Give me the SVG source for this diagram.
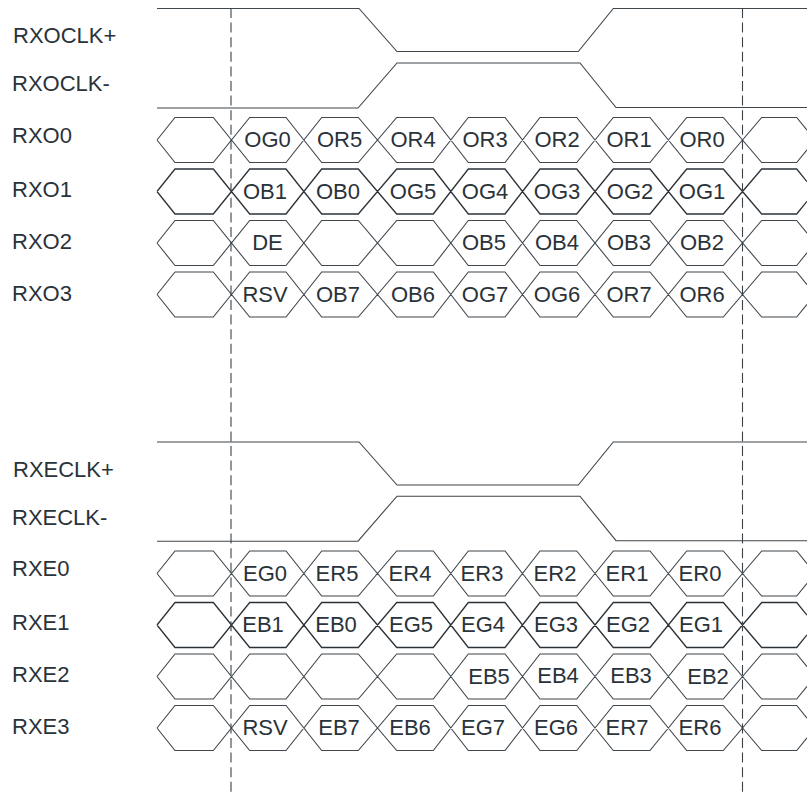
<svg xmlns="http://www.w3.org/2000/svg" width="807" height="794" viewBox="0 0 807 794">
<style>
text{font-family:"Liberation Sans",Arial,sans-serif;font-size:22px;fill:#2a323a}
.m{text-anchor:middle}
.s{fill:none;stroke:#3f464c;stroke-width:1.1}
.b{stroke:#2a3238;stroke-width:1.3}
.d{fill:none;stroke:#3a4248;stroke-width:1.1;stroke-dasharray:10 4.6}
</style>
<defs>
<path id="row" d="M157 22.5L175 0H213.3L249.7 45H286L321.7 0H358.3L396.7 45H433.3L468.3 0H505L540 45H576.7L613.3 0H650L686.7 45H723.3L761.7 0H796.7L807 12.7M157 22.5L175 45H213.3L249.7 0H286L321.7 45H358.3L396.7 0H433.3L468.3 45H505L540 0H576.7L613.3 45H650L686.7 0H723.3L761.7 45H796.7L807 32.3"/>
<path id="hi" d="M157 8.5H359L397 51.5H578.3L613.3 8.5H807"/>
<path id="lo" d="M157 108H358L397 63H580L616 107.5H807"/>
</defs>
<rect width="807" height="794" fill="#fff"/>
<g id="connectors">
<use href="#hi" class="s"/><use href="#lo" class="s"/>
<use href="#hi" class="s" y="433.5"/><use href="#lo" class="s" y="433.2"/>
<use href="#row" class="s" y="117.5"/><use href="#row" class="s b" y="169"/><use href="#row" class="s" y="220.5"/><use href="#row" class="s" y="272"/>
<use href="#row" class="s" y="551"/><use href="#row" class="s b" y="602.5"/><use href="#row" class="s" y="654"/><use href="#row" class="s" y="705.5"/>
<path class="d" d="M231 8V794"/><path class="d" d="M742.5 8V794"/>
</g>
<g id="labels-upper">
<text x="13" y="43">RXOCLK+</text><text x="12" y="91">RXOCLK-</text>
<text x="12" y="143">RXO0</text><text x="12" y="197">RXO1</text><text x="12" y="249">RXO2</text><text x="12" y="301">RXO3</text>
</g>
<g id="data-rxo0"><text class="m" x="267.5" y="147">OG0</text><text class="m" x="339.5" y="147">OR5</text><text class="m" x="413" y="147">OR4</text><text class="m" x="485" y="147">OR3</text><text class="m" x="557" y="147">OR2</text><text class="m" x="629" y="147">OR1</text><text class="m" x="702" y="147">OR0</text></g>
<g id="data-rxo1"><text class="m" x="265" y="199">OB1</text><text class="m" x="338" y="199">OB0</text><text class="m" x="413" y="199">OG5</text><text class="m" x="485" y="199">OG4</text><text class="m" x="557" y="199">OG3</text><text class="m" x="630" y="199">OG2</text><text class="m" x="702" y="199">OG1</text></g>
<g id="data-rxo2"><text class="m" x="267.5" y="250">DE</text><text class="m" x="484" y="250">OB5</text><text class="m" x="557" y="250">OB4</text><text class="m" x="629" y="250">OB3</text><text class="m" x="702" y="250">OB2</text></g>
<g id="data-rxo3"><text class="m" x="265" y="302">RSV</text><text class="m" x="338" y="302">OB7</text><text class="m" x="413" y="302">OB6</text><text class="m" x="485" y="302">OG7</text><text class="m" x="557" y="302">OG6</text><text class="m" x="629" y="302">OR7</text><text class="m" x="702" y="302">OR6</text></g>
<g id="labels-lower">
<text x="13" y="477">RXECLK+</text><text x="12" y="525">RXECLK-</text>
<text x="12" y="576">RXE0</text><text x="12" y="630">RXE1</text><text x="12" y="682">RXE2</text><text x="12" y="734">RXE3</text>
</g>
<g id="data-rxe0"><text class="m" x="265" y="581">EG0</text><text class="m" x="337" y="581">ER5</text><text class="m" x="410" y="581">ER4</text><text class="m" x="482" y="581">ER3</text><text class="m" x="555" y="581">ER2</text><text class="m" x="627" y="581">ER1</text><text class="m" x="700" y="581">ER0</text></g>
<g id="data-rxe1"><text class="m" x="263" y="632">EB1</text><text class="m" x="336" y="632">EB0</text><text class="m" x="411" y="632">EG5</text><text class="m" x="483" y="632">EG4</text><text class="m" x="556" y="632">EG3</text><text class="m" x="628" y="632">EG2</text><text class="m" x="701" y="632">EG1</text></g>
<g id="data-rxe2"><text class="m" x="489" y="684">EB5</text><text class="m" x="558" y="683">EB4</text><text class="m" x="631" y="683">EB3</text><text class="m" x="708" y="684">EB2</text></g>
<g id="data-rxe3"><text class="m" x="265" y="735">RSV</text><text class="m" x="339" y="735">EB7</text><text class="m" x="410" y="735">EB6</text><text class="m" x="483" y="735">EG7</text><text class="m" x="556" y="735">EG6</text><text class="m" x="627" y="735">ER7</text><text class="m" x="700" y="735">ER6</text></g>
</svg>
